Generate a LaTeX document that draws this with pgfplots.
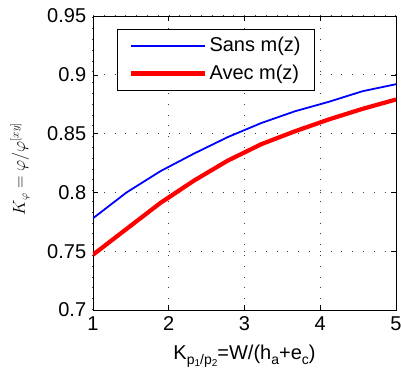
\documentclass[border=0pt]{standalone}
\usepackage{fontspec}
\setmainfont{Liberation Sans}
\usepackage{pgfplots}
\pgfplotsset{compat=1.18}
\newcommand{\subs}[1]{\raisebox{-0.5ex}{\fontsize{14}{14}\selectfont #1}}
\newcommand{\subsub}[1]{\raisebox{-0.35ex}{\fontsize{10}{10}\selectfont #1}}
\begin{document}
\fontsize{20}{24}\selectfont
\begin{tikzpicture}[x=1pt,y=1pt]
\begin{axis}[
  name=ax,
  scale only axis,
  width=303pt, height=294pt,
  xmin=1, xmax=5, ymin=0.7, ymax=0.95,
  xtick={1,2,3,4,5},
  ytick={0.7,0.75,0.8,0.85,0.9,0.95},
  /pgf/number format/assume math mode=true,
  yticklabel style={/pgf/number format/fixed,/pgf/number format/precision=2},
  tick label style={font=\fontsize{20}{24}\selectfont},
  tick align=inside,
  major tick length=5pt,
  xtick pos=both, ytick pos=both,
  grid=major,
  grid style={black!75, line width=1pt, dash pattern=on 1pt off 9.8pt},
  axis line style={black, line width=0.8pt},
  every tick/.style={black, line width=0.6pt},
  ylabel={$K_\varphi = \varphi/\varphi^{[xy]}$},
  ylabel style={font=\fontsize{16}{19}\selectfont, at={(axis description cs:-0.241,0.48)}, anchor=center, rotate=0},
  xlabel={K\subs{p\subsub{1}/p\subsub{2}}=W/(h\subs{a}+e\subs{c})},
  xlabel style={font=\fontsize{20}{24}\selectfont, yshift=0pt},
  legend style={at={(rel axis cs:0.079,0.956)}, anchor=north west,
    draw=black, line width=0.8pt, fill=white,
    font=\fontsize{20}{24}\selectfont, inner xsep=12pt, inner ysep=6pt,
    row sep=6pt},
  legend cell align=left,
  legend image code/.code={\draw[#1] (0pt,0pt) -- (74pt,0pt);},
]
\addplot[blue, line width=1.8pt] coordinates {
(1,0.778) (1.444,0.800) (1.889,0.818) (2.333,0.833) (2.778,0.847)
(3.222,0.859) (3.667,0.869) (4.111,0.877) (4.556,0.886) (5,0.892)};
\addlegendentry{Sans m(z)}
\addplot[red, line width=4.2pt] coordinates {
(1,0.747) (1.444,0.769) (1.889,0.791) (2.333,0.810) (2.778,0.827)
(3.222,0.841) (3.667,0.852) (4.111,0.862) (4.556,0.871) (5,0.879)};
\addlegendentry{Avec m(z)}
\end{axis}
\pgfresetboundingbox
\path ([xshift=-93pt,yshift=-73pt]ax.south west) rectangle ([xshift=5pt,yshift=16pt]ax.north east);
\end{tikzpicture}
\end{document}
